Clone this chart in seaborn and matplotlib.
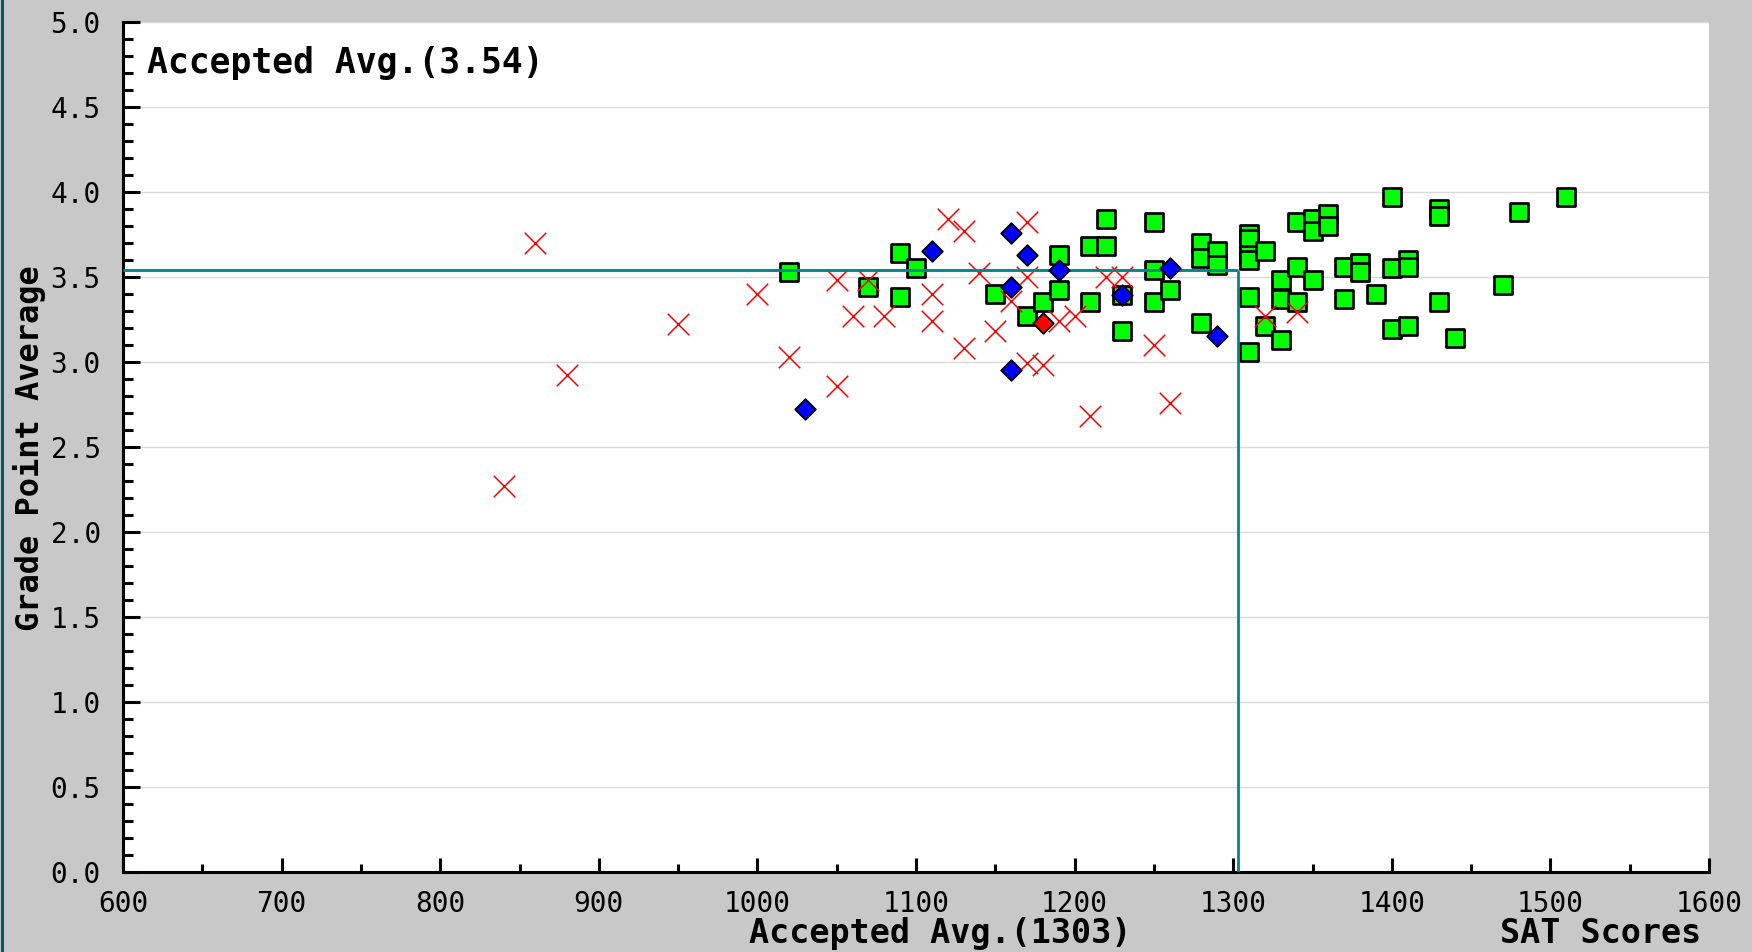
import matplotlib
matplotlib.use("Agg")
import matplotlib.pyplot as plt
import seaborn as sns
import pandas as pd
from matplotlib.ticker import MultipleLocator, FormatStrFormatter
from matplotlib.lines import Line2D

# ---------------- data ----------------
accepted_sat = [1020, 1070, 1090, 1090, 1100, 1150, 1170, 1180, 1190, 1190,
                1210, 1210, 1220, 1220, 1230, 1230, 1250, 1250, 1250, 1260,
                1280, 1280, 1280, 1290, 1290, 1310, 1310, 1310, 1310, 1310,
                1310, 1320, 1320, 1330, 1330, 1330, 1340, 1340, 1340, 1350,
                1350, 1350, 1360, 1360, 1370, 1370, 1380, 1380, 1390, 1400,
                1400, 1400, 1410, 1410, 1410, 1430, 1430, 1430, 1440, 1470,
                1480, 1510]
accepted_gpa = [3.53, 3.44, 3.64, 3.38, 3.55, 3.40, 3.27, 3.35, 3.63, 3.42,
                3.68, 3.35, 3.84, 3.68, 3.39, 3.18, 3.82, 3.54, 3.35, 3.42,
                3.70, 3.61, 3.23, 3.65, 3.57, 3.75, 3.72, 3.63, 3.60, 3.38,
                3.06, 3.65, 3.21, 3.48, 3.37, 3.13, 3.82, 3.56, 3.35, 3.84,
                3.77, 3.48, 3.87, 3.80, 3.56, 3.37, 3.58, 3.53, 3.40, 3.97,
                3.55, 3.19, 3.60, 3.56, 3.21, 3.90, 3.86, 3.35, 3.14, 3.45,
                3.88, 3.97]

rejected_sat = [840, 860, 880, 950, 1000, 1020, 1050, 1050, 1060, 1070,
                1080, 1110, 1110, 1120, 1130, 1130, 1140, 1150, 1160, 1170,
                1170, 1170, 1180, 1190, 1200, 1210, 1220, 1230, 1250, 1260,
                1320, 1340]
rejected_gpa = [2.27, 3.70, 2.92, 3.22, 3.40, 3.03, 3.48, 2.86, 3.27, 3.48,
                3.27, 3.40, 3.24, 3.84, 3.77, 3.08, 3.52, 3.18, 3.36, 3.82,
                3.50, 2.99, 2.98, 3.24, 3.27, 2.68, 3.50, 3.50, 3.10, 2.76,
                3.27, 3.29]

waitlist_sat = [1030, 1110, 1160, 1160, 1160, 1170, 1190, 1230, 1260, 1290]
waitlist_gpa = [2.72, 3.65, 3.76, 3.44, 2.95, 3.63, 3.54, 3.39, 3.55, 3.15]

other_sat = [1180]
other_gpa = [3.23]

avg_sat = 1303
avg_gpa = 3.54

x_min, x_max = 600, 1600
y_min, y_max = 0.0, 5.0

title_text = "Accepted Avg.(3.54)"
xlabel_text = "Accepted Avg.(1303)"
xlabel2_text = "SAT Scores"
ylabel_text = "Grade Point Average"

# ---------------- figure ----------------
W, H = 1752, 952
fig = plt.figure(figsize=(W / 100, H / 100), dpi=100, facecolor="#c8c8c8")
ax = fig.add_axes([123 / W, 1 - 871.7 / H, 1586 / W, 850 / H])
ax.set_facecolor("white")

mono = "DejaVu Sans Mono"

acc_df = pd.DataFrame({"sat": accepted_sat, "gpa": accepted_gpa})
rej_df = pd.DataFrame({"sat": rejected_sat, "gpa": rejected_gpa})
wl_df = pd.DataFrame({"sat": waitlist_sat, "gpa": waitlist_gpa})
ot_df = pd.DataFrame({"sat": other_sat, "gpa": other_gpa})

sns.scatterplot(data=acc_df, x="sat", y="gpa", marker="s", s=168,
                color="#00ff00", edgecolor="black", linewidth=1.95,
                ax=ax, zorder=3, legend=False)
sns.scatterplot(data=rej_df, x="sat", y="gpa", marker="x", s=240,
                color="#ff0000", linewidth=1.1, ax=ax, zorder=4, legend=False)

# average lines (L shape)
ax.hlines(avg_gpa, x_min, avg_sat, color="#008888", lw=2.1, zorder=5)
ax.vlines(avg_sat, y_min, avg_gpa, color="#008888", lw=2.0, zorder=5)

sns.scatterplot(data=wl_df, x="sat", y="gpa", marker="D", s=110,
                color="#0000ff", edgecolor="black", linewidth=1.3,
                ax=ax, zorder=6, legend=False)
sns.scatterplot(data=ot_df, x="sat", y="gpa", marker="D", s=110,
                color="#ff0000", edgecolor="black", linewidth=1.3,
                ax=ax, zorder=6, legend=False)

ax.set_xlim(x_min, x_max)
ax.set_ylim(y_min, y_max)

for side in ["top", "right"]:
    ax.spines[side].set_visible(False)
for side in ["left", "bottom"]:
    ax.spines[side].set_linewidth(2.2)
    ax.spines[side].set_color("black")

ax.xaxis.set_major_locator(MultipleLocator(100))
ax.xaxis.set_minor_locator(MultipleLocator(50))
ax.yaxis.set_major_locator(MultipleLocator(0.5))
ax.yaxis.set_minor_locator(MultipleLocator(0.1))
ax.yaxis.set_major_formatter(FormatStrFormatter("%.1f"))
ax.xaxis.set_major_formatter(FormatStrFormatter("%d"))

ax.tick_params(axis="x", which="major", direction="in", length=10, width=2.2,
               pad=13, labelsize=20, color="black")
ax.tick_params(axis="x", which="minor", direction="in", length=6, width=2.2,
               color="black")
ax.tick_params(axis="y", which="major", direction="in", length=12, width=2.2,
               pad=16, labelsize=20, color="black")
ax.tick_params(axis="y", which="minor", direction="in", length=7.5, width=2.2,
               color="black")
for lab in ax.get_xticklabels() + ax.get_yticklabels():
    lab.set_fontfamily(mono)

ax.yaxis.grid(True, color="#d9d9d9", lw=1.0)
ax.xaxis.grid(False)
ax.set_axisbelow(True)
ax.set_xlabel("")
ax.set_ylabel("")

ax.text(615, 4.70, title_text, fontfamily=mono, fontweight="bold",
        fontsize=25, va="baseline", ha="left", zorder=7)

fig.text(749 / W, 9 / H, xlabel_text, fontfamily=mono, fontweight="bold",
         fontsize=24, va="baseline", ha="left")
fig.text(1500 / W, 9 / H, xlabel2_text, fontfamily=mono, fontweight="bold",
         fontsize=24, va="baseline", ha="left")
fig.text(30 / W, 1 - 448 / H, ylabel_text, fontfamily=mono, fontweight="bold",
         fontsize=23, rotation=90, va="center", ha="center")

# dark left border of the window
fig.add_artist(Line2D([1.5 / W, 1.5 / W], [0, 1], transform=fig.transFigure,
                      color="#0a5c5c", lw=2.2))

fig.savefig("out.png", dpi=100, facecolor=fig.get_facecolor())
